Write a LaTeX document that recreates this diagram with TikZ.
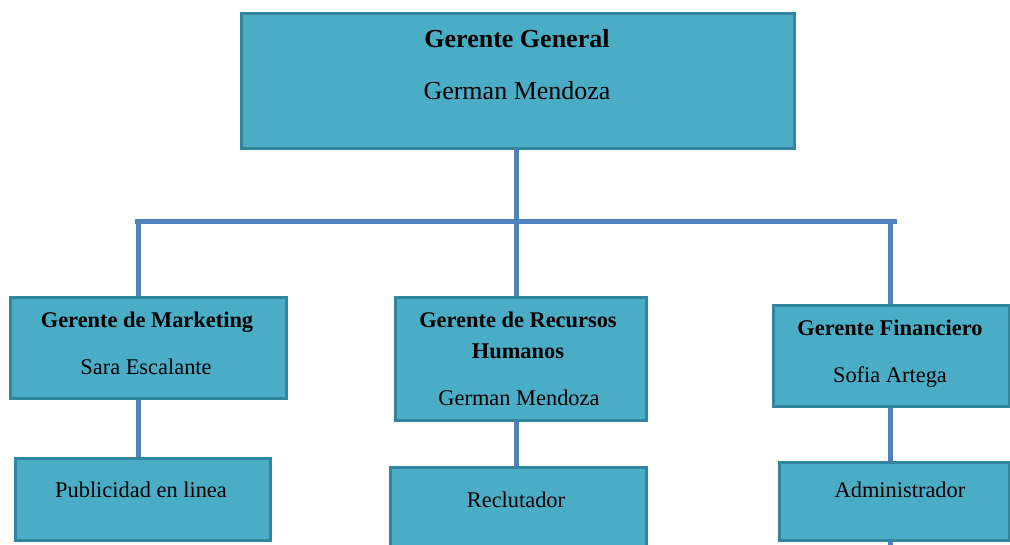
\documentclass[tikz,border=0pt]{standalone}
\usepackage{fontspec}
\setmainfont{Liberation Serif}
\definecolor{boxfill}{HTML}{4BACC6}
\definecolor{boxline}{HTML}{31859C}
\definecolor{linkcol}{HTML}{4F81BD}
\begin{document}
\begin{tikzpicture}[x=1pt,y=-1pt,
  orgbox/.style={draw=boxline,line width=2pt,fill=boxfill,inner sep=0pt,anchor=north west},
  link/.style={draw=linkcol,line width=5pt},
  ttl/.style={anchor=base,font=\fontsize{22.4}{26}\selectfont\bfseries,inner sep=0pt},
  nm/.style={anchor=base,font=\fontsize{22.4}{26}\selectfont,inner sep=0pt},
  bigttl/.style={anchor=base,font=\fontsize{26}{30}\selectfont\bfseries,inner sep=0pt},
  bignm/.style={anchor=base,font=\fontsize{26}{30}\selectfont,inner sep=0pt}]
\useasboundingbox (0,0) rectangle (1010,545);
% boxes
\node[orgbox,minimum width=552pt,minimum height=134pt] (gg) at (241,13) {};
\node[orgbox,minimum width=275pt,minimum height=100pt] (mk) at (10,297) {};
\node[orgbox,minimum width=254pt,minimum height=81pt] (pub) at (15,458) {};
\node[orgbox,minimum width=250pt,minimum height=122pt] (rh) at (395,297) {};
\node[orgbox,minimum width=255pt,minimum height=95pt] (rec) at (390,467) {};
\node[orgbox,minimum width=235pt,minimum height=100pt] (fin) at (773,305) {};
\node[orgbox,minimum width=229pt,minimum height=77pt] (adm) at (779,462) {};
% junction points on the horizontal bar
\coordinate (bl) at (138,222);
\coordinate (bc) at (516,222);
\coordinate (br) at (890,222);
\coordinate (be) at (897,222);
\coordinate (stub) at (890,545);
% connectors
\draw[link] (135,222) -- (be);
\draw[link] (gg.south -| bc) -- (bc);
\draw[link] (bl) -- (mk.north -| bl);
\draw[link] (bc) -- (rh.north -| bc);
\draw[link] (br) -- (fin.north -| br);
\draw[link] (mk.south -| bl) -- (pub.north -| bl);
\draw[link] (rh.south -| bc) -- (rec.north -| bc);
\draw[link] (fin.south -| br) -- (adm.north -| br);
\draw[link] (adm.south -| br) -- (stub);
% redraw box edges over connector ends
\foreach \b in {gg,mk,pub,rh,rec,fin,adm} \draw[boxline,line width=2pt] (\b.north west) rectangle (\b.south east);
% texts
\node[bigttl] (t1) at (517,48) {Gerente General};
\node[bignm] (n1) at (517,100) {German Mendoza};
\node[ttl] (t2) at (147,328) {Gerente de Marketing};
\node[nm] (n2) at (146,374) {Sara Escalante};
\node[nm] (n3) at (141,497) {Publicidad en linea};
\node[ttl] (t4) at (518,328) {Gerente de Recursos};
\node[ttl] (t4b) at (518,359) {Humanos};
\node[nm] (n4) at (519,406) {German Mendoza};
\node[nm] (n5) at (516,507) {Reclutador};
\node[ttl] (t6) at (890,336) {Gerente Financiero};
\node[nm] (n6) at (890,383) {Sofia Artega};
\node[nm] (n7) at (900,497) {Administrador};
\end{tikzpicture}
\end{document}
